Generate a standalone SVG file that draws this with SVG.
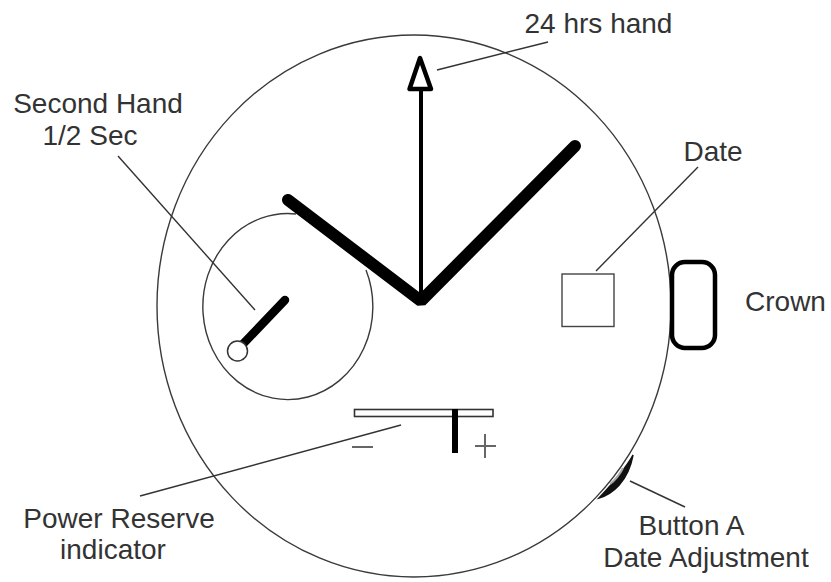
<svg xmlns="http://www.w3.org/2000/svg" width="831" height="582" viewBox="0 0 831 582">
<style>
.thin{fill:none;stroke:#3a3a3a;stroke-width:1.4}
.lead{fill:none;stroke:#333;stroke-width:1.4}
.hand{fill:none;stroke:#000;stroke-linecap:round}
text{font-family:"Liberation Sans",Arial,sans-serif;font-size:28px;fill:#333;text-anchor:middle}
</style>
<rect width="831" height="582" fill="#fff"/>
<g id="case"><ellipse class="thin" cx="414" cy="306" rx="257" ry="271"/></g>
<g id="subdial"><path class="thin" d="M296 214A85 93 0 1 0 366 270"/></g>
<g id="hands">
<path class="hand" stroke-width="12" stroke-linejoin="bevel" d="M288 200L421 301L575 146"/>
<path class="hand" stroke-width="4" d="M421 302V90"/>
<path d="M420 58L409.500 89H431Z" fill="#fff" stroke="#000" stroke-width="4.500" stroke-linejoin="round"/>
</g>
<g id="second-hand">
<path class="hand" stroke-width="8.500" d="M243 344L285 300"/>
<circle cx="237.500" cy="351" r="10" fill="#fff" stroke="#333" stroke-width="1.500"/>
</g>
<g id="date"><rect x="562" y="274" width="52" height="52.500" fill="none" stroke="#444" stroke-width="1.400"/></g>
<g id="crown"><rect x="672" y="262" width="43" height="86" rx="13" fill="#fff" stroke="#000" stroke-width="4.500"/></g>
<g id="power-reserve">
<rect x="354.500" y="409.500" width="138.500" height="7" fill="#fff" stroke="#333" stroke-width="1.600"/>
<path d="M455 409V453" stroke="#000" stroke-width="6" fill="none"/>
<path d="M352 447H373M475 446H496M485 434V458" stroke="#666" stroke-width="2" fill="none"/>
</g>
<g id="button-a">
<path d="M599 498C612 494 628 482 633 455C626 468 612 484 599 498Z" fill="#111" stroke="#111" stroke-width="1.500"/>
<path d="M610 484Q618 478 623 468" fill="none" stroke="#aaa" stroke-width="2"/>
</g>
<g id="connectors">
<path class="lead" d="M437 70L548 42"/>
<path class="lead" d="M118 156L255 310"/>
<path class="lead" d="M596 271L698 167"/>
<path class="lead" d="M140 496L401 425"/>
<path class="lead" d="M630 481L685 507"/>
</g>
<g id="labels">
<text x="598.500" y="33">24 hrs hand</text>
<text x="98" y="113">Second Hand</text>
<text x="90" y="145">1/2 Sec</text>
<text x="713" y="161">Date</text>
<text x="785.500" y="311">Crown</text>
<text x="119" y="528">Power Reserve</text>
<text x="113" y="559">indicator</text>
<text x="691.500" y="535">Button A</text>
<text x="706" y="567">Date Adjustment</text>
</g>
</svg>
